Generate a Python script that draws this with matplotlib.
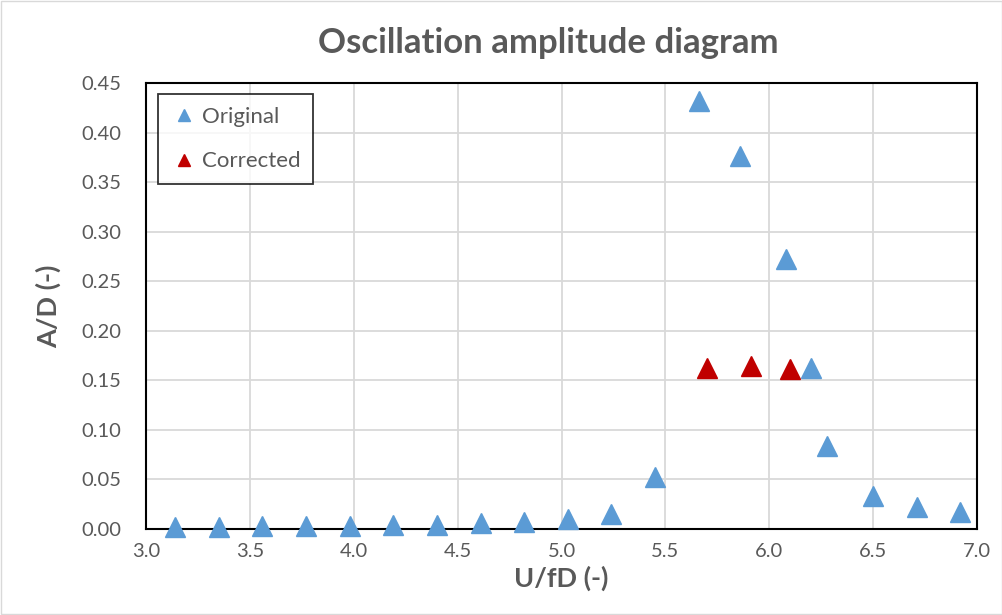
import matplotlib.pyplot as plt
import numpy as np
from matplotlib.ticker import FormatStrFormatter, MultipleLocator

plt.rcParams['font.family'] = ['Lato', 'DejaVu Sans']

# data
ufd_orig = [3.14, 3.35, 3.56, 3.77, 3.98, 4.19, 4.40, 4.61, 4.82, 5.03, 5.24,
            5.45, 5.66, 5.86, 6.08, 6.20, 6.28, 6.50, 6.71, 6.92]
ad_orig = [0.002, 0.002, 0.003, 0.003, 0.003, 0.004, 0.004, 0.006, 0.007, 0.010, 0.015,
           0.052, 0.432, 0.376, 0.272, 0.162, 0.084, 0.033, 0.022, 0.017]
ufd_corr = [5.70, 5.91, 6.10]
ad_corr = [0.162, 0.164, 0.161]

grey = '#595959'

fig = plt.figure(figsize=(10.03, 6.15), dpi=100)
ax = fig.add_axes([0.1456, 0.1398, 0.8285, 0.7252])

ax.plot(ufd_orig, ad_orig, '^', color='#5B9BD5', ms=14, mec='#5B9BD5', label='Original',
        zorder=5, clip_on=False)
ax.plot(ufd_corr, ad_corr, '^', color='#C00000', ms=14, mec='#C00000', label='Corrected',
        zorder=5, clip_on=False)

ax.set_xlim(3.0, 7.0)
ax.set_ylim(0.0, 0.45)
ax.xaxis.set_major_locator(MultipleLocator(0.5))
ax.yaxis.set_major_locator(MultipleLocator(0.05))
ax.xaxis.set_major_formatter(FormatStrFormatter('%.1f'))
ax.yaxis.set_major_formatter(FormatStrFormatter('%.2f'))
ax.grid(True, color='#D9D9D9', lw=1.3, zorder=0)
ax.set_axisbelow(True)
ax.tick_params(length=0, labelsize=14.5, colors=grey)
ax.tick_params(axis='y', pad=18)
ax.tick_params(axis='x', pad=10)
for s in ax.spines.values():
    s.set_color('black')
    s.set_linewidth(1.5)
    s.set_zorder(4)

ax.set_xlabel('U/fD (-)', fontsize=19.5, fontweight='bold', color=grey, labelpad=4)
ax.set_ylabel('A/D (-)', fontsize=19.5, fontweight='bold', color=grey, labelpad=14)
fig.text(0.547, 0.93, 'Oscillation amplitude diagram', ha='center', va='center',
         fontsize=25, fontweight='bold', color=grey)

leg = ax.legend(loc='upper left', bbox_to_anchor=(0.0144, 0.975), borderaxespad=0,
                fontsize=16, markerscale=0.6, frameon=True, fancybox=False, edgecolor='black',
                handletextpad=0.2, labelspacing=1.1, borderpad=0.57, handlelength=1.2,
                labelcolor=grey)
leg.get_frame().set_linewidth(1.3)
leg.set_zorder(6)

fig.patches.append(plt.Rectangle((0.001, 0.001), 0.998, 0.998, transform=fig.transFigure,
                                 fill=False, edgecolor='#D9D9D9', lw=1))

fig.savefig('out.png', dpi=100)
